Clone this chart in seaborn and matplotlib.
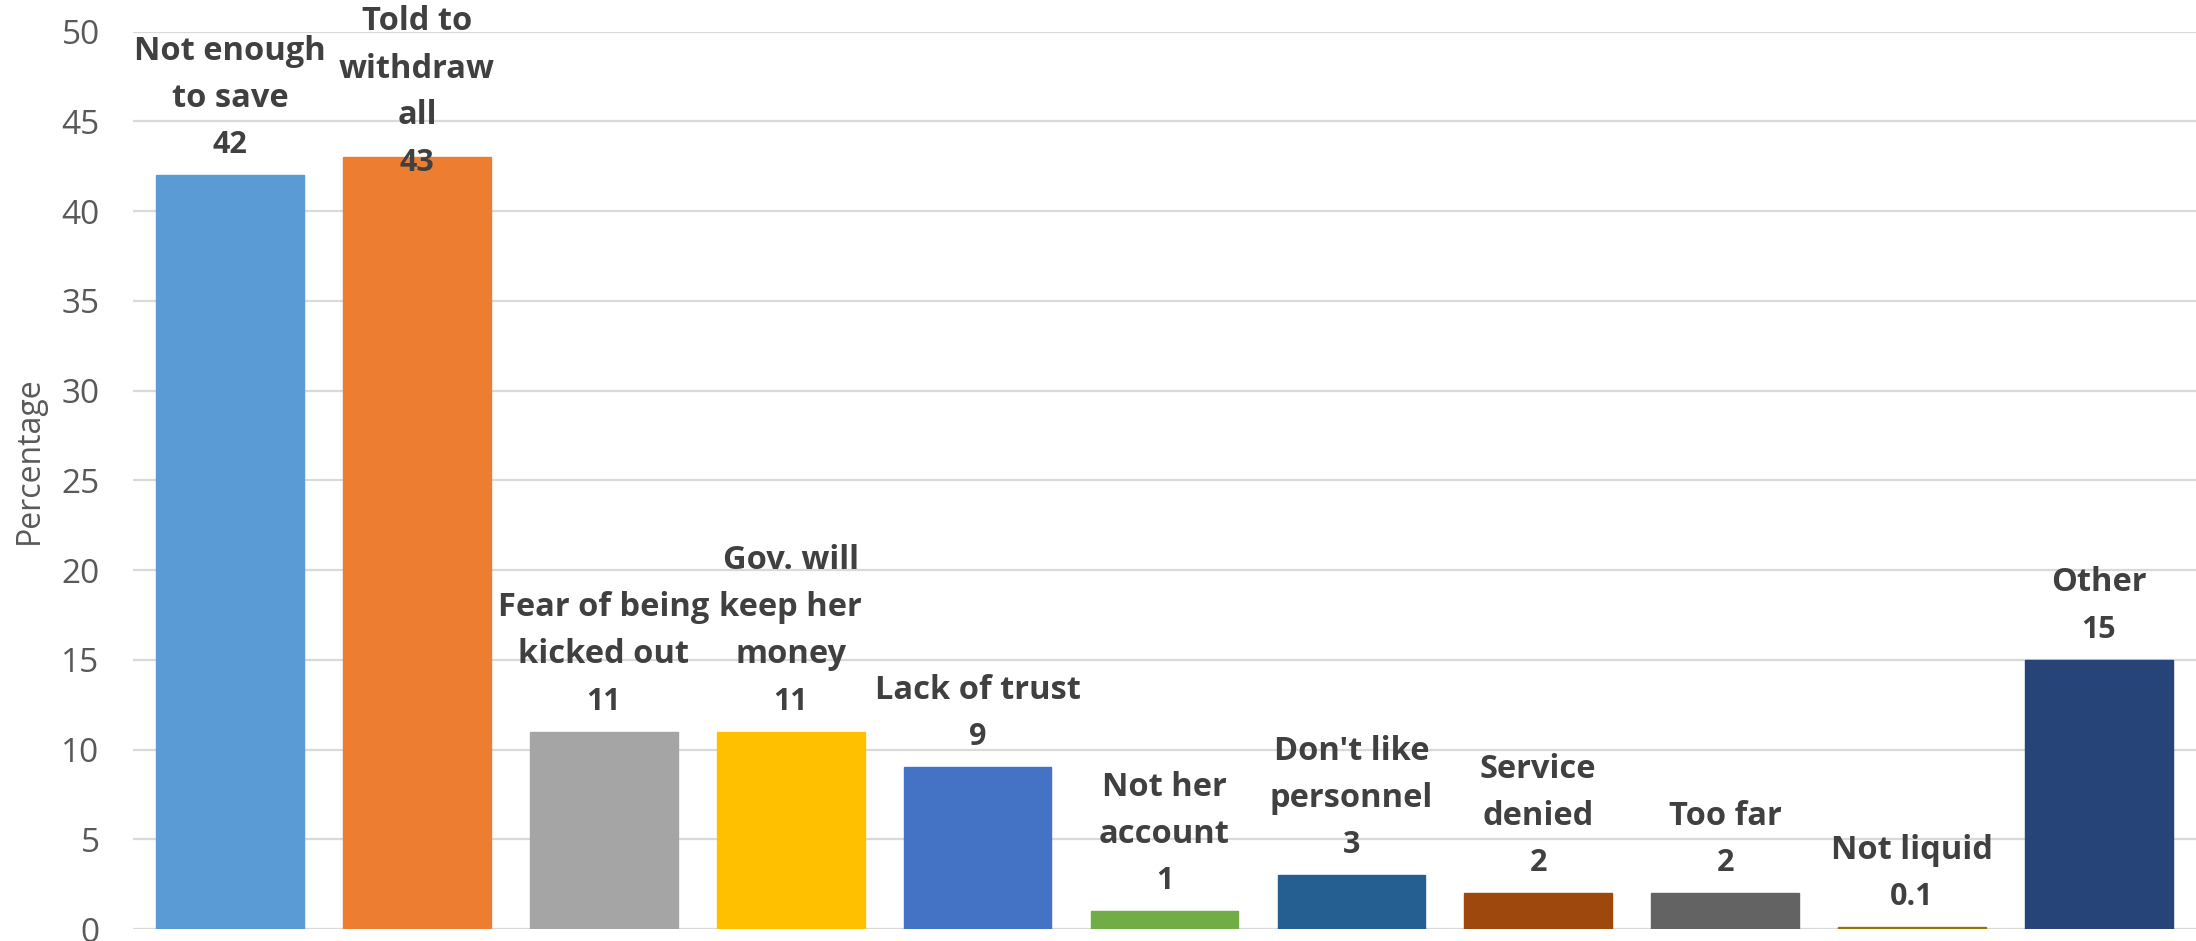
import matplotlib
matplotlib.use("Agg")
import matplotlib.pyplot as plt
import seaborn as sns

categories = ["Not enough\nto save", "Told to\nwithdraw\nall", "Fear of being\nkicked out",
              "Gov. will\nkeep her\nmoney", "Lack of trust", "Not her\naccount",
              "Don't like\npersonnel", "Service\ndenied", "Too far", "Not liquid", "Other"]
values = [42, 43, 11, 11, 9, 1, 3, 2, 2, 0.1, 15]
value_labels = ["42", "43", "11", "11", "9", "1", "3", "2", "2", "0.1", "15"]
colors = ["#5B9BD5", "#ED7D31", "#A5A5A5", "#FFC000", "#4472C4", "#70AD47",
          "#255E91", "#9E480E", "#636363", "#997300", "#264478"]
y_ticks = [0, 5, 10, 15, 20, 25, 30, 35, 40, 45, 50]

sns.set_theme(style="white")
plt.rcParams['font.family'] = ['Open Sans', 'DejaVu Sans']

W, H = 2196, 941
fig = plt.figure(figsize=(W / 100, H / 100), dpi=100)
ax = fig.add_axes([133 / W, 12 / H, (W - 133) / W, (929 - 31.7) / H])

keys = [f"c{i}" for i in range(len(categories))]
sns.barplot(x=keys, y=values, hue=keys, palette=colors, legend=False,
            width=0.79, saturation=1, ax=ax, zorder=3)
for p, c in zip(ax.patches, colors):
    p.set_edgecolor(c)
    p.set_linewidth(1.0)

ax.set_xlim(-0.52, len(categories) - 0.48)
ax.set_ylim(0, 50)
ax.set_yticks(y_ticks)
ax.set_yticklabels([str(t) for t in y_ticks], fontsize=24, color="#595959")
ax.set_xticks([])
ax.set_xlabel("")
ax.set_ylabel("Percentage", fontsize=23, color="#595959")
ax.tick_params(axis="y", length=0, pad=24)
for s in ax.spines.values():
    s.set_visible(False)
ax.grid(axis="y", color="#D9D9D9", linewidth=1.6, zorder=0)
ax.set_axisbelow(True)

ax.yaxis.set_label_coords(46 / W, (929 - 0.5 * (929 - 31.7)) / H, transform=fig.transFigure)

txt_color = "#404040"
gap_val = 30
line_sp = 47
for i, (cat, v, lab) in enumerate(zip(categories, values, value_labels)):
    ytop = ax.transData.transform((i, v))[1]
    lines = cat.split("\n")
    n = len(lines)
    top_center = ytop + gap_val + line_sp * n
    shift = max(0, top_center - (H - 22))
    vc = gap_val - shift
    ax.annotate(lab, (i, v), xytext=(0, vc), textcoords="offset pixels",
                ha="center", va="center", fontsize=22, fontweight="bold",
                color=txt_color, annotation_clip=False)
    for k, line in enumerate(lines):
        off = vc + line_sp * (n - k)
        ax.annotate(line, (i, v), xytext=(0, off), textcoords="offset pixels",
                    ha="center", va="center", fontsize=23.5, fontweight="bold",
                    color=txt_color, annotation_clip=False)

fig.savefig("out.png", dpi=100)
